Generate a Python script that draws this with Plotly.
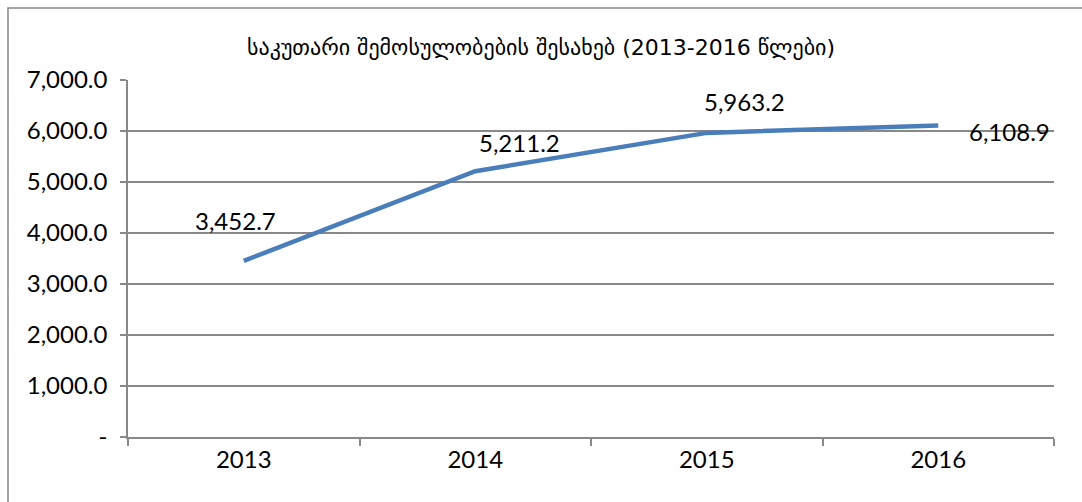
import plotly.graph_objects as go

years = ["2013", "2014", "2015", "2016"]
values = [3452.7, 5211.2, 5963.2, 6108.9]
value_labels = ["3,452.7", "5,211.2", "5,963.2", "6,108.9"]
y_tickvals = [0, 1000, 2000, 3000, 4000, 5000, 6000, 7000]
y_ticktext = ["-", "1,000.0", "2,000.0", "3,000.0", "4,000.0", "5,000.0", "6,000.0", "7,000.0"]
title_text = "საკუთარი შემოსულობების შესახებ (2013-2016 წლები)"

# label pixel offsets (style only)
label_shifts = [(-8, 40), (44, 29), (38, 31), (71, -6)]

FONT = "Lato"
FS = 24
GRID = "#888888"

fig = go.Figure()
fig.add_trace(go.Scatter(
    x=years, y=values, mode="lines",
    line=dict(color="#4A7EBB", width=4.5),
    hoverinfo="skip", showlegend=False,
))

for i, (v, t, (dx, dy)) in enumerate(zip(values, value_labels, label_shifts)):
    fig.add_annotation(x=i, y=v, text=t, showarrow=False,
                       xref="x", yref="y",
                       xshift=dx, yshift=dy,
                       font=dict(family=FONT, size=FS, color="#000000"))

# outer chart frame
fig.add_shape(type="rect", xref="paper", yref="paper",
              x0=-0.1296, x1=1.05, y0=-0.25, y1=1.2017,
              line=dict(color=GRID, width=1.5), fillcolor="rgba(0,0,0,0)",
              layer="below")

fig.update_layout(
    width=1082, height=502,
    margin=dict(l=128, r=28, t=80, b=65),
    paper_bgcolor="white", plot_bgcolor="white",
    title=dict(text=title_text, x=0.5, xref="container", xanchor="center",
               y=1 - 47 / 502, yref="container", yanchor="middle",
               font=dict(family="DejaVu Sans", size=22, color="#000000")),
    xaxis=dict(
        type="category", showgrid=False, zeroline=False,
        showline=True, linecolor=GRID, linewidth=1.5,
        ticks="outside", ticklen=7, tickcolor=GRID, tickwidth=1.5,
        tickson="boundaries",
        tickfont=dict(family=FONT, size=FS, color="#000000"),
        range=[-0.5, 3.5],
    ),
    yaxis=dict(
        range=[0, 7000], tickvals=y_tickvals, ticktext=y_ticktext,
        showgrid=True, gridcolor=GRID, gridwidth=1.5,
        zeroline=False, showline=True, linecolor=GRID, linewidth=1.5,
        ticks="outside", ticklen=6, tickcolor=GRID, tickwidth=1.5,
        ticklabelstandoff=8,
        tickfont=dict(family=FONT, size=FS, color="#000000"),
    ),
)

fig.write_html("out.html", config={"displayModeBar": False},
               post_script="document.body.style.margin='0';")
